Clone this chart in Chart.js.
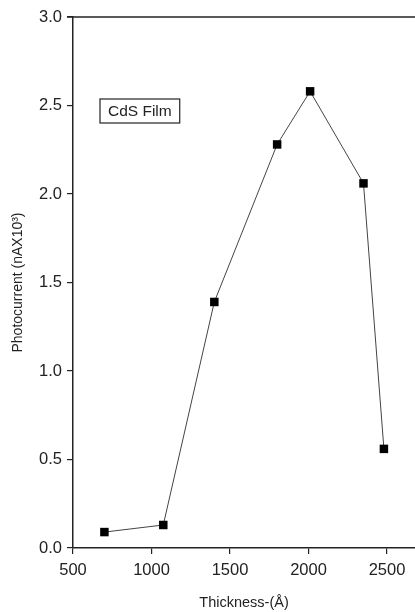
<!DOCTYPE html>
<html>
<head>
<meta charset="utf-8">
<script src="https://cdn.jsdelivr.net/npm/chart.js@4.4.0/dist/chart.umd.min.js"></script>
<style>
  html, body { margin: 0; padding: 0; background: #fff; }
  canvas { display: block; }
</style>
</head>
<body>
<canvas id="chart" width="415" height="612"></canvas>
<script>
// data
const thickness = [700, 1075, 1400, 1800, 2010, 2350, 2480];
const photocurrent = [0.09, 0.13, 1.39, 2.28, 2.58, 2.06, 0.56];
const xTicks = [500, 1000, 1500, 2000, 2500];
const yTicks = [0.0, 0.5, 1.0, 1.5, 2.0, 2.5, 3.0];
const seriesLabel = 'CdS Film';

const FONT = 'Liberation Sans, Arial, sans-serif';

// top frame line + the boxed label
const framePlugin = {
  id: 'frame',
  afterDraw(chart) {
    const { ctx, chartArea } = chart;
    ctx.save();
    ctx.strokeStyle = '#222';
    ctx.lineWidth = 1.5;
    ctx.beginPath();
    ctx.moveTo(chartArea.left - 6, chartArea.top);
    ctx.lineTo(chartArea.right, chartArea.top);
    ctx.stroke();

    ctx.font = '15.5px ' + FONT;
    const w = ctx.measureText(seriesLabel).width;
    const bx = chartArea.left + 27, by = chartArea.top + 82;
    ctx.lineWidth = 1.2;
    ctx.strokeRect(bx, by, w + 16, 24);
    ctx.fillStyle = '#222';
    ctx.textBaseline = 'middle';
    ctx.fillText(seriesLabel, bx + 8, by + 12.5);
    ctx.restore();
  }
};

new Chart(document.getElementById('chart'), {
  type: 'scatter',
  data: {
    datasets: [{
      label: seriesLabel,
      data: thickness.map((x, i) => ({ x, y: photocurrent[i] })),
      showLine: true,
      borderColor: '#444',
      borderWidth: 1,
      pointStyle: 'rect',
      pointRadius: 6,
      pointBackgroundColor: '#000',
      pointBorderColor: '#000',
      pointBorderWidth: 0
    }]
  },
  options: {
    responsive: false,
    animation: false,
    layout: { autoPadding: false, padding: { top: 17, right: 0, left: 0, bottom: 0 } },
    plugins: { legend: { display: false }, tooltip: { enabled: false } },
    scales: {
      x: {
        type: 'linear',
        min: 500,
        max: 2678,
        afterBuildTicks: s => { s.ticks = xTicks.map(v => ({ value: v })); },
        afterFit: s => { s.height = 64; },
        grid: { drawOnChartArea: false, drawTicks: true, tickLength: 6, color: '#222', lineWidth: 1.2 },
        border: { display: true, color: '#222', width: 1.5 },
        ticks: { color: '#222', font: { family: FONT, size: 16.5 }, padding: 7, maxRotation: 0, callback: v => String(v) },
        title: { display: true, text: 'Thickness-(Å)', color: '#222', font: { family: FONT, size: 14.5 }, padding: { top: 0, bottom: 0 } }
      },
      y: {
        type: 'linear',
        min: 0,
        max: 3,
        afterBuildTicks: s => { s.ticks = yTicks.map(v => ({ value: v })); },
        afterFit: s => { s.width = 73; },
        grid: { drawOnChartArea: false, drawTicks: true, tickLength: 6, color: '#222', lineWidth: 1.2 },
        border: { display: true, color: '#222', width: 1.5 },
        ticks: { color: '#222', font: { family: FONT, size: 16.5 }, padding: 5, callback: v => v.toFixed(1) },
        title: { display: true, text: 'Photocurrent (nAX10³)', color: '#222', font: { family: FONT, size: 14 }, padding: { bottom: 0, top: 10 } }
      }
    }
  },
  plugins: [framePlugin]
});
</script>
</body>
</html>
